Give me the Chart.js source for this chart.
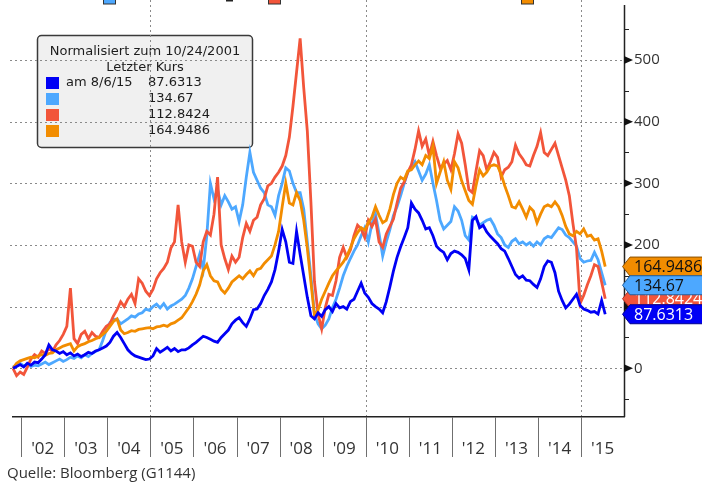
<!DOCTYPE html>
<html>
<head>
<meta charset="utf-8">
<script src="https://cdn.jsdelivr.net/npm/chart.js@4.4.0/dist/chart.umd.min.js"></script>
<style>
  html, body { margin: 0; padding: 0; background: #fff; }
  canvas { display: block; }
</style>
</head>
<body>
<canvas id="chart" width="702" height="484"></canvas>
<script>
// monthly readings, first point = 10/24/2001 (normalised to 0)
const startDate = 2001.81;

const blue = [
  0, 3, 6, 2, 8, 5, 10, 9, 15, 22, 38, 30,
  28, 24, 27, 22, 25, 20, 23, 19, 22, 26, 24, 28,
  30, 33, 36, 42, 52, 58, 50, 40, 30, 24, 20, 18,
  16, 14, 15, 20, 32, 26, 30, 34, 28, 32, 27, 30,
  30, 33, 38, 42, 47, 52, 50, 47, 44, 42, 50, 56,
  62, 72, 78, 82, 74, 68, 80, 95, 96, 105, 118, 128,
  140, 160, 190, 225, 205, 172, 170, 222, 185, 150, 115, 85,
  80, 90, 84, 95, 100, 92, 105, 98, 100, 96, 108, 112,
  125, 138, 122, 115, 105, 100, 96, 90, 108, 132, 158, 180,
  197, 212, 228, 268, 258, 252, 240, 226, 228, 215, 198, 192,
  188, 176, 186, 190, 188, 184, 178, 160, 240, 246, 228, 232,
  221, 214, 208, 202, 194, 190, 178, 165, 152, 146, 150, 143,
  142, 136, 131, 145, 165, 174, 172, 155, 125, 110, 98, 104,
  112, 120, 102, 96, 94, 91, 92, 88, 110, 87.6313
];

const lightBlue = [
  2, 5, 8, 4, 6, 3, 5, 4, 7, 10, 6, 9,
  12, 15, 11, 14, 18, 16, 20, 17, 22, 19, 24, 27,
  30, 45, 62, 74, 79, 80, 72, 76, 80, 85, 83, 88,
  90, 96, 94, 100, 104, 98, 105, 96, 101, 104, 108, 112,
  118, 130, 145, 165, 185, 160, 215, 300, 275, 290, 265, 280,
  270, 258, 262, 238, 265, 310, 350, 318, 305, 292, 285, 265,
  262, 248, 280, 300, 325, 320, 300, 285, 285, 258, 205, 150,
  88, 72, 64, 70, 80, 98, 112, 130, 150, 165, 178, 190,
  200, 215, 228, 205, 235, 250, 218, 182, 205, 225, 248, 262,
  280, 300, 318, 325, 335, 320, 305, 315, 330, 300, 272, 240,
  226, 232, 238, 262, 255, 240, 215, 208, 245, 242, 232, 236,
  240, 242, 232, 218, 212, 200, 196, 206, 210, 202, 205, 200,
  204, 198, 205, 200, 210, 214, 212, 220, 228, 225, 216, 212,
  205, 198, 178, 172, 174, 175, 188, 176, 155, 134.67
];

const red = [
  0, -12, -6, -10, 2, 15, 22, 18, 28, 24, 32, 27,
  38, 45, 55, 68, 130, 48, 40, 55, 60, 48, 58, 52,
  50, 60, 68, 72, 85, 95, 108, 100, 112, 120, 105, 145,
  138, 125, 118, 128, 145, 155, 162, 172, 195, 205, 265, 205,
  172, 200, 198, 172, 165, 205, 222, 216, 250, 310, 200, 178,
  160, 182, 172, 180, 212, 235, 222, 240, 245, 265, 275, 296,
  300, 310, 318, 328, 345, 375, 425, 480, 535, 455, 385, 270,
  140, 88, 64, 98, 120, 118, 142, 180, 196, 180, 192, 215,
  232, 226, 212, 240, 230, 242, 205, 196, 218, 230, 242, 268,
  292, 302, 318, 330, 355, 385, 360, 372, 345, 368, 345, 325,
  331, 337, 322, 348, 380, 365, 330, 290, 285, 320, 353, 345,
  322, 335, 350, 342, 310, 322, 326, 335, 362, 348, 340, 330,
  328, 345, 360, 382, 350, 345, 355, 365, 345, 325, 305, 280,
  235, 195, 105, 118, 135, 150, 168, 165, 140, 112.8424
];

const orange = [
  0, 8, 12, 14, 16, 18, 17, 20, 22, 21, 24, 25,
  30, 33, 36, 38, 40, 28, 35, 38, 40, 43, 45, 48,
  50, 55, 60, 68, 76, 80, 62, 56, 58, 61, 60, 63,
  64, 65, 66, 64, 67, 68, 70, 68, 72, 74, 78, 82,
  90, 98, 108, 120, 135, 158, 168, 150, 142, 140, 128, 122,
  130, 140, 145, 150, 145, 152, 158, 150, 160, 162, 170, 176,
  182, 200, 222, 262, 300, 268, 265, 285, 272, 240, 195, 140,
  85, 95, 112, 125, 138, 150, 158, 165, 172, 182, 195, 210,
  220, 228, 224, 236, 245, 262, 248, 236, 240, 258, 282, 300,
  310, 306, 320, 322, 330, 336, 330, 345, 340, 360, 300, 318,
  335, 305, 290, 335, 325, 304, 288, 272, 266, 296, 322, 312,
  318, 328, 330, 328, 315, 296, 280, 262, 260, 270, 258, 245,
  261, 255, 236, 250, 262, 265, 262, 270, 262, 248, 230, 218,
  215, 222, 218, 226, 214, 216, 208, 210, 190, 164.9486
];

const seriesColors = ['#0000f5', '#4da8ff', '#f2553a', '#f28c00'];
const lastValues = ['87.6313', '134.67', '112.8424', '164.9486'];

const yMajor = [0, 100, 200, 300, 400, 500];
const yMinor = [-50, 50, 150, 250, 350, 450, 550];
const years = [2002, 2003, 2004, 2005, 2006, 2007, 2008, 2009, 2010, 2011, 2012, 2013, 2014, 2015];
const yearLabels = ["'02", "'03", "'04", "'05", "'06", "'07", "'08", "'09", "'10", "'11", "'12", "'13", "'14", "'15"];
const xGrid = [2005, 2010, 2015];

const legendTitle = 'Normalisiert zum 10/24/2001';
const legendSub = 'Letzter Kurs';
const legendDate = 'am 8/6/15';
const sourceText = 'Quelle: Bloomberg (G1144)';

const dates = blue.map((_, i) => startDate + i / 12);
const toPoints = arr => arr.map((v, i) => ({ x: dates[i], y: v }));

function line(ctx, x1, y1, x2, y2) {
  ctx.beginPath();
  ctx.moveTo(x1, y1);
  ctx.lineTo(x2, y2);
  ctx.stroke();
}

function drawLegendBox(ctx) {
  ctx.save();
  ctx.beginPath();
  ctx.roundRect(37.5, 35.5, 215, 112, 4);
  ctx.fillStyle = '#f0f0f0';
  ctx.fill();
  ctx.lineWidth = 1.5;
  ctx.strokeStyle = '#3a3a3a';
  ctx.stroke();

  ctx.font = '13px "DejaVu Sans"';
  ctx.fillStyle = '#1c1c1c';
  ctx.textBaseline = 'middle';
  ctx.textAlign = 'center';
  ctx.fillText(legendTitle, 145, 52);
  ctx.fillText(legendSub, 145, 68);

  ctx.textAlign = 'left';
  const rowY = [83, 99, 115, 131];
  rowY.forEach((yc, i) => {
    ctx.fillStyle = seriesColors[i];
    ctx.fillRect(46, yc - 6, 13, 12);
    ctx.fillStyle = '#1c1c1c';
    if (i === 0) ctx.fillText(legendDate, 66, yc);
    ctx.fillText(lastValues[i], 148, yc);
  });
  ctx.restore();
}

function drawTag(ctx, py, fill, edge, color, text) {
  const h = 19, tip = 622.5, body = 630;
  ctx.beginPath();
  ctx.moveTo(tip, py);
  ctx.lineTo(body, py - h / 2);
  ctx.lineTo(705, py - h / 2);
  ctx.lineTo(705, py + h / 2);
  ctx.lineTo(body, py + h / 2);
  ctx.closePath();
  ctx.fillStyle = fill;
  ctx.fill();
  ctx.strokeStyle = edge;
  ctx.lineWidth = 1;
  ctx.stroke();
  ctx.fillStyle = color;
  ctx.textAlign = 'left';
  ctx.textBaseline = 'middle';
  ctx.fillText(text, 634, py + 1);
}

const overlay = {
  id: 'overlay',
  beforeDatasetsDraw(chart) {
    const { ctx, chartArea: a, scales: { x, y } } = chart;
    drawLegendBox(ctx);

    // dotted grid, drawn over the legend box like the original
    ctx.save();
    ctx.strokeStyle = '#8a8a8a';
    ctx.lineWidth = 1;
    ctx.setLineDash([2, 3]);
    yMajor.forEach(v => {
      const py = Math.round(y.getPixelForValue(v)) + 0.5;
      line(ctx, a.left - 2, py, a.right, py);
    });
    xGrid.forEach(v => {
      const px = Math.round(x.getPixelForValue(v)) + 0.5;
      line(ctx, px, 0, px, a.bottom);
    });
    ctx.restore();
  },
  afterDatasetsDraw(chart) {
    const { ctx, chartArea: a, scales: { x, y } } = chart;
    ctx.save();

    // axes
    ctx.strokeStyle = '#222';
    ctx.lineWidth = 1.5;
    line(ctx, a.right + 0.5, 5, a.right + 0.5, a.bottom + 1);
    line(ctx, a.left, a.bottom + 0.75, a.right + 1, a.bottom + 0.75);

    // right axis ticks + labels
    ctx.fillStyle = '#111';
    yMajor.forEach(v => {
      const py = y.getPixelForValue(v);
      ctx.beginPath();
      ctx.moveTo(a.right, py - 4);
      ctx.lineTo(a.right + 9, py);
      ctx.lineTo(a.right, py + 4);
      ctx.closePath();
      ctx.fill();
    });
    ctx.lineWidth = 1;
    yMinor.forEach(v => {
      const py = Math.round(y.getPixelForValue(v)) + 0.5;
      line(ctx, a.right, py, a.right + 5, py);
    });
    ctx.font = '15px "Open Sans"';
    ctx.fillStyle = '#333';
    ctx.textAlign = 'left';
    ctx.textBaseline = 'middle';
    yMajor.forEach(v => {
      ctx.fillText(String(v), a.right + 10, y.getPixelForValue(v));
    });

    // bottom year separators + labels
    ctx.strokeStyle = '#6f6f6f';
    ctx.lineWidth = 1;
    years.forEach(yr => {
      const px = Math.round(x.getPixelForValue(yr)) + 0.5;
      line(ctx, px, a.bottom + 1, px, a.bottom + 41);
    });
    ctx.font = '17px "Open Sans"';
    ctx.fillStyle = '#333';
    ctx.textAlign = 'center';
    years.forEach((yr, i) => {
      ctx.fillText(yearLabels[i], x.getPixelForValue(yr + 0.5), a.bottom + 33);
    });

    // source line
    ctx.font = '15px "Open Sans"';
    ctx.textAlign = 'left';
    ctx.fillStyle = '#333';
    ctx.fillText(sourceText, 7, 474);

    // cut-off legend at the top edge
    [[103, 1], [268, 2], [521, 3]].forEach(([px, k]) => {
      ctx.fillStyle = seriesColors[k];
      ctx.fillRect(px, -8, 13, 12);
      ctx.strokeStyle = '#333';
      ctx.strokeRect(px + 0.5, -8, 12, 12);
    });
    ctx.fillStyle = '#222';
    ctx.fillRect(226, 0, 7, 1.5);

    // last price tags
    ctx.font = '16px "Open Sans"';
    drawTag(ctx, y.getPixelForValue(112.8424), seriesColors[2], '#b03020', '#fff', lastValues[2]);
    drawTag(ctx, y.getPixelForValue(164.9486), seriesColors[3], '#8a5000', '#111', lastValues[3]);
    drawTag(ctx, y.getPixelForValue(134.67), seriesColors[1], '#2060a0', '#111', lastValues[1]);
    drawTag(ctx, y.getPixelForValue(87.6313), seriesColors[0], '#000090', '#fff', lastValues[0]);

    ctx.restore();
  }
};

const ds = (data, color, order) => ({
  data: toPoints(data),
  borderColor: color,
  borderWidth: 2.8,
  pointRadius: 0,
  tension: 0,
  fill: false,
  order
});

new Chart(document.getElementById('chart'), {
  type: 'line',
  data: {
    datasets: [
      ds(blue, seriesColors[0], 0),
      ds(lightBlue, seriesColors[1], 3),
      ds(red, seriesColors[2], 2),
      ds(orange, seriesColors[3], 1)
    ]
  },
  options: {
    responsive: false,
    animation: false,
    devicePixelRatio: 1,
    layout: { padding: { left: 12, right: 78, top: 0, bottom: 68 } },
    plugins: { legend: { display: false }, tooltip: { enabled: false } },
    scales: {
      x: { type: 'linear', display: false, min: 2001.787, max: 2015.996 },
      y: { type: 'linear', display: false, min: -77.4, max: 597.3 }
    }
  },
  plugins: [overlay]
});
</script>
</body>
</html>
